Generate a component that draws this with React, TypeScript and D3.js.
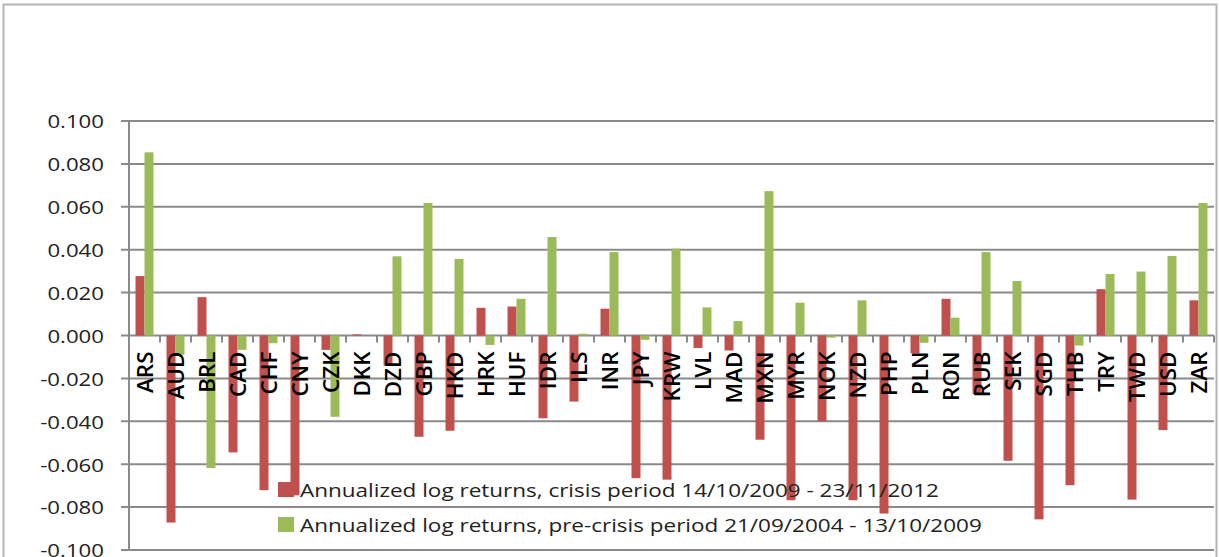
import { scaleBand, scaleLinear, range } from "d3";

const WIDTH = 1219
const HEIGHT = 557
const MARGIN = { top: 121, left: 129, right: 5, bottom: 7 }

const currencies = [
  "ARS", "AUD", "BRL", "CAD", "CHF", "CNY", "CZK", "DKK", "DZD", "GBP", "HKD", "HRK",
  "HUF", "IDR", "ILS", "INR", "JPY", "KRW", "LVL", "MAD", "MXN", "MYR", "NOK", "NZD",
  "PHP", "PLN", "RON", "RUB", "SEK", "SGD", "THB", "TRY", "TWD", "USD", "ZAR",
]

// crisis period 14/10/2009 - 23/11/2012
const crisis = [
  0.0277, -0.0872, 0.0179, -0.0545, -0.0721, -0.0745, -0.0067, 0.0005, -0.0140, -0.0472, -0.0444, 0.0129,
  0.0135, -0.0386, -0.0308, 0.0125, -0.0665, -0.0672, -0.0058, -0.0070, -0.0486, -0.0768, -0.0400, -0.0768,
  -0.0830, -0.0083, 0.0171, -0.0273, -0.0584, -0.0857, -0.0698, 0.0216, -0.0765, -0.0441, 0.0164,
]

// pre-crisis period 21/09/2004 - 13/10/2009
const preCrisis = [
  0.0854, -0.0090, -0.0618, -0.0067, -0.0036, 0.0000, -0.0379, 0.0000, 0.0369, 0.0618, 0.0357, -0.0044,
  0.0171, 0.0459, 0.0008, 0.0389, -0.0020, 0.0405, 0.0131, 0.0067, 0.0673, 0.0153, -0.0010, 0.0164,
  0.0000, -0.0034, 0.0083, 0.0389, 0.0254, 0.0000, -0.0047, 0.0287, 0.0298, 0.0371, 0.0618,
]

const yTicks = [0.1, 0.08, 0.06, 0.04, 0.02, 0, -0.02, -0.04, -0.06, -0.08, -0.1]

const seriesNames = [
  "Annualized log returns, crisis period 14/10/2009 - 23/11/2012",
  "Annualized log returns, pre-crisis period 21/09/2004 - 13/10/2009",
]
const colors = ["#c0504d", "#9bbb59"]
const FONT = "'Open Sans', 'Liberation Sans', sans-serif"
const GRID = "#8a8a8a"

function ReturnsChart() {
  const boundsWidth = WIDTH - MARGIN.left - MARGIN.right
  const boundsHeight = HEIGHT - MARGIN.top - MARGIN.bottom

  const xScale = scaleBand()
    .domain(currencies)
    .range([0, boundsWidth])
    .paddingInner(0.42)
    .paddingOuter(0.21)
  const step = xScale.step()
  const subScale = scaleBand()
    .domain(["crisis", "pre"])
    .range([0, xScale.bandwidth()])
  const yScale = scaleLinear().domain([-0.1, 0.1]).range([boundsHeight, 0])
  const y0 = yScale(0)

  const bar = (val, cur, key, i) => {
    const top = Math.min(yScale(val), y0)
    const h = Math.abs(yScale(val) - y0)
    return (
      <rect
        key={key + i}
        x={xScale(cur) + subScale(key)}
        y={top}
        width={subScale.bandwidth()}
        height={h}
        fill={key === "crisis" ? colors[0] : colors[1]}
      />
    )
  }

  const gridLines = yTicks.map((value, i) => (
    <g key={i}>
      <line x1={-8} x2={boundsWidth} y1={yScale(value)} y2={yScale(value)} stroke={GRID} strokeWidth={2} />
      <text
        transform={`translate(-25,${yScale(value)}) scale(1.17,1)`}
        textAnchor="end"
        dominantBaseline="central"
        fontSize={19}
        fill="#222"
      >
        {value.toFixed(3)}
      </text>
    </g>
  ))

  const xTicks = range(currencies.length + 1).map((i) => (
    <line key={i} x1={i * step} x2={i * step} y1={y0} y2={y0 + 7} stroke={GRID} strokeWidth={2} />
  ))

  const xLabels = currencies.map((c) => {
    const cx = xScale(c) + xScale.bandwidth() / 2
    return (
      <text
        key={c}
        transform={`translate(${cx},${y0 + 16}) rotate(-90) scale(1.07,1)`}
        textAnchor="end"
        dominantBaseline="central"
        fontSize={21}
        fontWeight={600}
        fill="#000"
      >
        {c}
      </text>
    )
  })

  return (
    <div style={{ position: "absolute", left: 0, top: 0, width: WIDTH, height: HEIGHT, background: "#fff" }}>
      <svg width={WIDTH} height={HEIGHT} style={{ display: "block", fontFamily: FONT }}>
        <rect x={3.5} y={4.5} width={1213} height={HEIGHT} fill="#fff" stroke="#b5b5b5" strokeWidth={2} />
        <g transform={`translate(${MARGIN.left},${MARGIN.top})`}>
          {gridLines}
          <line x1={0} x2={0} y1={0} y2={boundsHeight} stroke={GRID} strokeWidth={2} />
          {xTicks}
          {currencies.map((c, i) => bar(crisis[i], c, "crisis", i))}
          {currencies.map((c, i) => bar(preCrisis[i], c, "pre", i))}
          {xLabels}
          <g transform="translate(149,361)">
            {seriesNames.map((name, i) => (
              <g key={name} transform={`translate(0,${i * 35})`}>
                <rect x={0} y={0} width={16} height={15} fill={colors[i]} />
                <text
                  transform="translate(22,8) scale(1.21,1)"
                  dominantBaseline="central"
                  fontSize={18.6}
                  fill="#222"
                >
                  {name}
                </text>
              </g>
            ))}
          </g>
        </g>
      </svg>
    </div>
  )
}

export default function App() {
  return <ReturnsChart />
}
